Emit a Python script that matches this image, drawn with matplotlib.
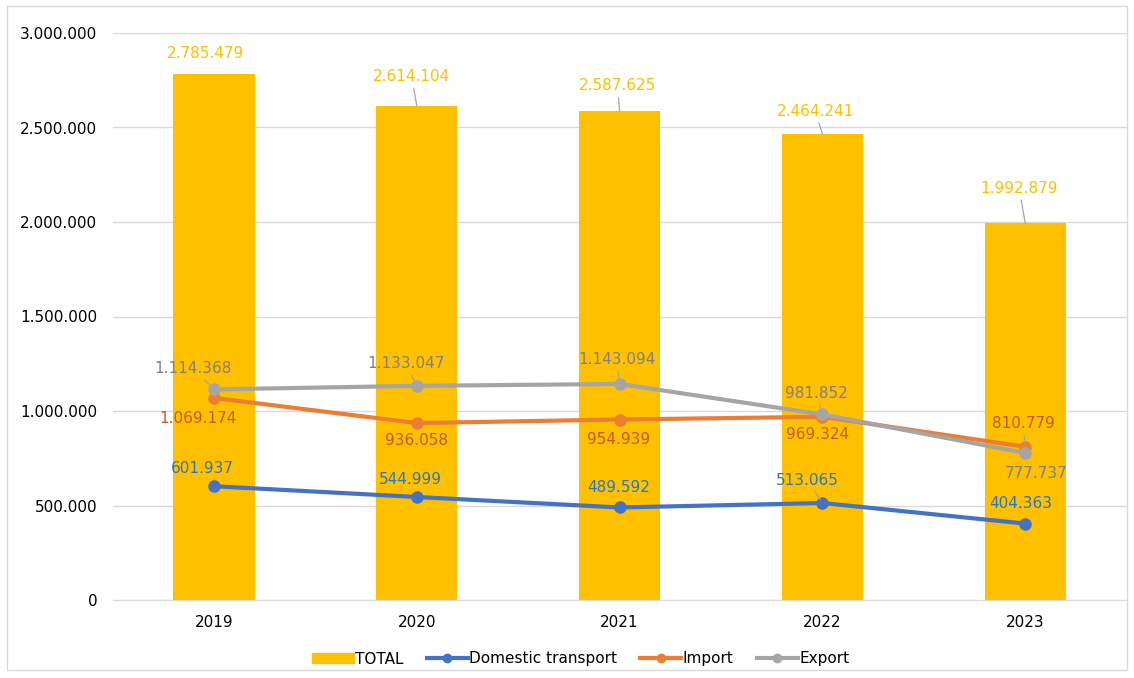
import matplotlib.pyplot as plt
from matplotlib.patches import Rectangle, Patch
from matplotlib.lines import Line2D
import numpy as np

years = ['2019', '2020', '2021', '2022', '2023']
total = [2785479, 2614104, 2587625, 2464241, 1992879]
domestic = [601937, 544999, 489592, 513065, 404363]
imports = [1069174, 936058, 954939, 969324, 810779]
exports = [1114368, 1133047, 1143094, 981852, 777737]

# label offsets in pixels (dx, dy) from each point, plus whether a leader line is drawn
total_off = [(-8, 20), (-5, 29), (-2, 25), (-7, 23), (-6, 35)]
total_lead = [False, True, True, True, True]
domestic_off = [(-12, 18), (-6, 17), (-1, 20), (-15, 23), (-4, 20)]
domestic_lead = [False, False, False, True, False]
import_off = [(-16, -21), (0, -17), (-1, -20), (-5, -18), (-2, 23)]
import_lead = [False, False, False, False, True]
export_off = [(-21, 21), (-11, 22), (-3, 24), (-6, 21), (11, -20)]
export_lead = [True, True, True, True, False]

c_total = '#FFC000'
c_dom = '#4472C4'
c_imp = '#ED7D31'
c_exp = '#A5A5A5'

plt.rcParams['font.family'] = 'DejaVu Sans'

fig = plt.figure(figsize=(11.34, 6.78), dpi=100)
ax = fig.add_axes([112.6 / 1134, 1 - 600 / 678, 1014 / 1134, 567 / 678])
fig.patches.append(Rectangle((7 / 1134, 8 / 678), 1120 / 1134, 664 / 678,
                             transform=fig.transFigure, fill=False,
                             edgecolor='#D9D9D9', lw=1))

x = np.arange(len(years))
ax.bar(x, total, width=0.4, color=c_total, zorder=2)
ax.plot(x, domestic, color=c_dom, lw=3, marker='o', ms=8, zorder=3)
ax.plot(x, imports, color=c_imp, lw=3, marker='o', ms=8, zorder=3)
ax.plot(x, exports, color=c_exp, lw=3, marker='o', ms=8, zorder=4)

def fmt(v):
    return f'{v:,}'.replace(',', '.')

def labels(vals, offs, leads, color, end_gap):
    for xi, v, (dx, dy), lead in zip(x, vals, offs, leads):
        ax.annotate(fmt(v), (xi, v), xytext=(dx, dy), textcoords='offset pixels',
                    ha='center', va='center', color=color, fontsize=11, zorder=5,
                    arrowprops=dict(arrowstyle='-', color='#A6A6A6', lw=0.9,
                                    shrinkA=1, shrinkB=end_gap) if lead else None)

labels(total, total_off, total_lead, c_total, 0)
labels(domestic, domestic_off, domestic_lead, '#2E75B6', 3)
labels(imports, import_off, import_lead, '#C55A11', 3)
labels(exports, export_off, export_lead, '#808080', 3)

ax.set_xlim(-0.5, 4.5)
ax.set_ylim(0, 3000000)
ax.set_yticks(np.arange(0, 3000001, 500000))
ax.set_yticklabels([fmt(v) for v in range(0, 3000001, 500000)])
ax.set_xticks(x)
ax.set_xticklabels(years)
ax.tick_params(length=0, labelsize=11, colors='black')
ax.tick_params(axis='x', pad=10.5)
ax.tick_params(axis='y', pad=11)
ax.grid(axis='y', color='#D9D9D9', lw=1, zorder=0)
for s in ['top', 'right', 'left']:
    ax.spines[s].set_visible(False)
ax.spines['bottom'].set_color('#D9D9D9')

handles = [Patch(color=c_total, label='TOTAL'),
           Line2D([], [], color=c_dom, lw=3, marker='o', ms=6, label='Domestic transport'),
           Line2D([], [], color=c_imp, lw=3, marker='o', ms=6, label='Import'),
           Line2D([], [], color=c_exp, lw=3, marker='o', ms=6, label='Export')]
fig.legend(handles=handles, loc='center', bbox_to_anchor=(581 / 1134, 1 - 659 / 678),
           ncol=4, frameon=False, fontsize=11, handlelength=2.7, handleheight=0.6,
           handletextpad=0.1, columnspacing=1.5)

fig.savefig('out.png', dpi=100)
